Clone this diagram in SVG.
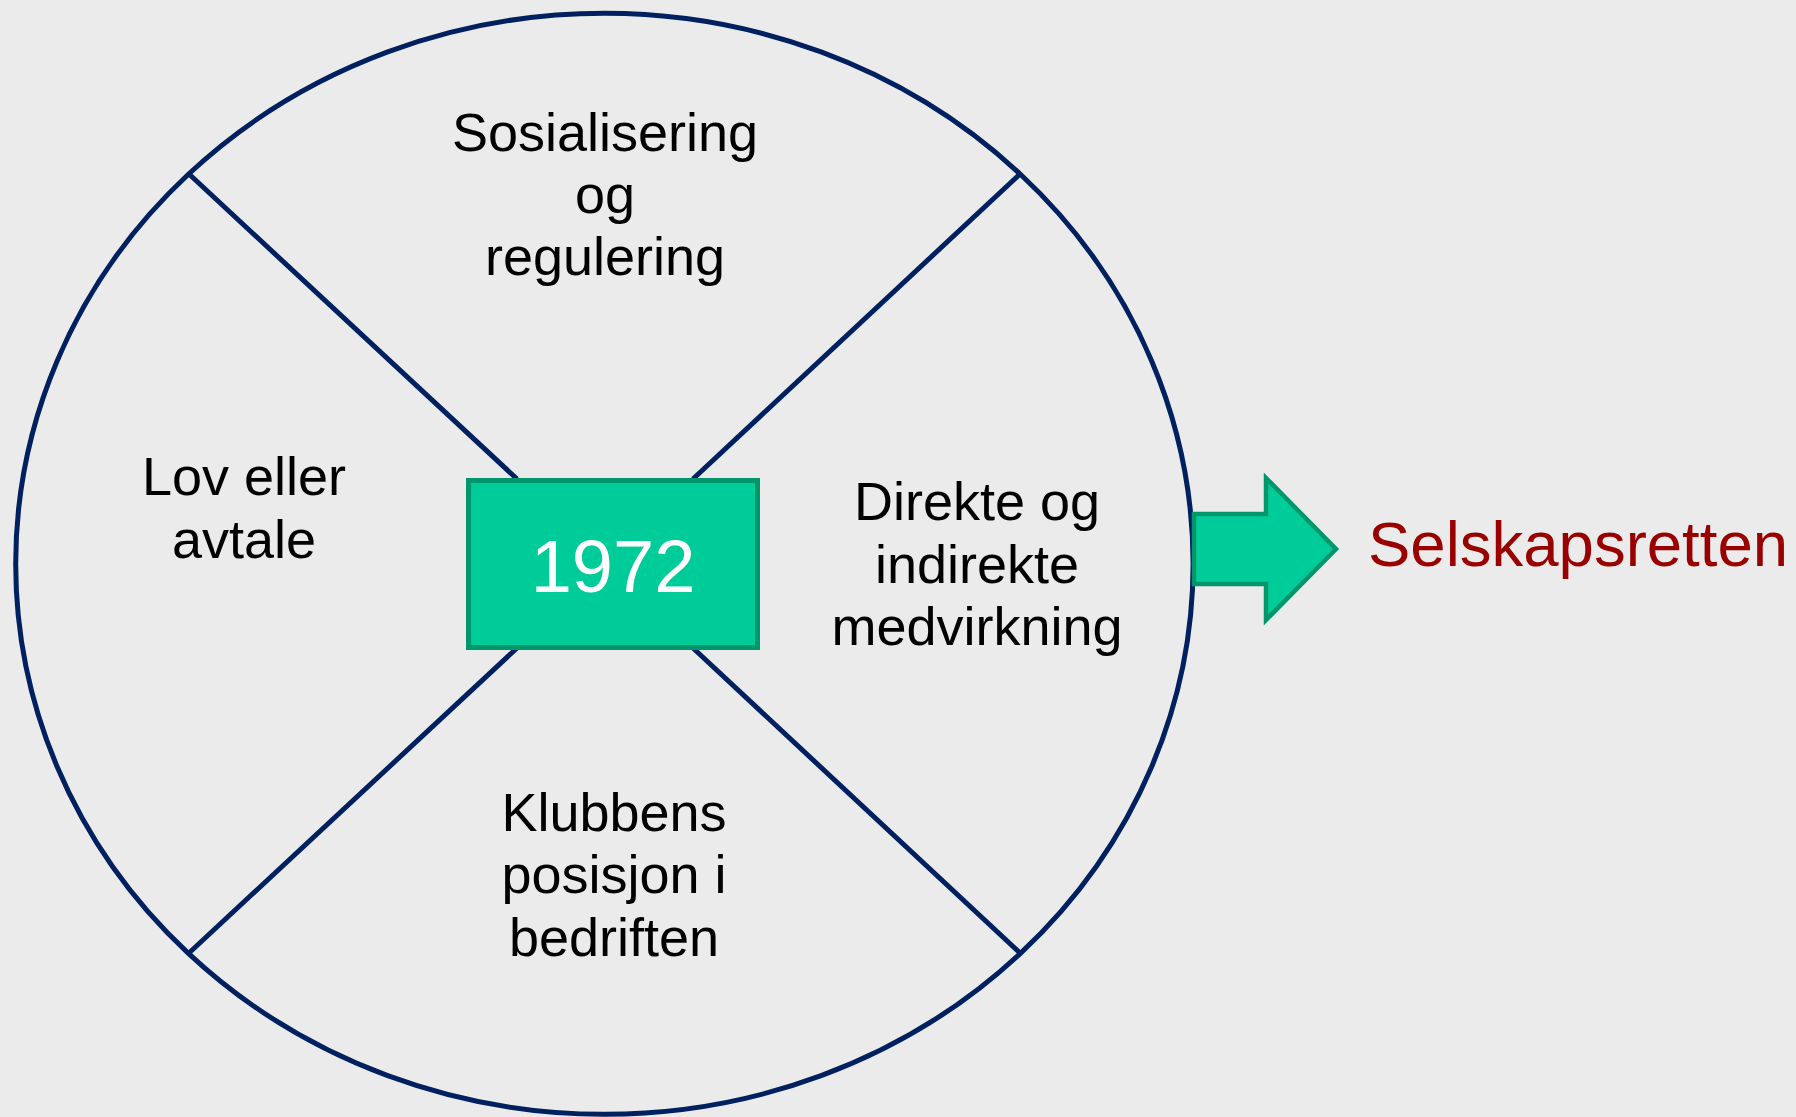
<svg xmlns="http://www.w3.org/2000/svg" width="1796" height="1117" viewBox="0 0 1796 1117">
<style>
.lbl{font-family:"Liberation Sans",Arial,sans-serif;font-size:54px;fill:#000;text-anchor:middle}
.ln{stroke:#002060;stroke-width:5;fill:none}
</style>
<rect x="0" y="0" width="1796" height="1117" fill="#EBEBEB"/>
<g id="circle">
<ellipse cx="604.4" cy="563.8" rx="588.7" ry="550.5" fill="none" stroke="#002060" stroke-width="5"/>
</g>
<g id="connectors">
<line class="ln" x1="189" y1="174" x2="517" y2="479"/>
<line class="ln" x1="1020" y1="174" x2="693" y2="479"/>
<line class="ln" x1="189" y1="953" x2="517" y2="648"/>
<line class="ln" x1="1020" y1="953" x2="693" y2="648"/>
</g>
<g id="center">
<rect x="468.5" y="480.5" width="289" height="167" fill="#00CC99" stroke="#00966B" stroke-width="5"/>
<text x="613" y="592" font-family="Liberation Sans,Arial,sans-serif" font-size="74" fill="#FFFFFF" text-anchor="middle">1972</text>
</g>
<g id="top">
<text class="lbl" x="605" y="151">Sosialisering</text>
<text class="lbl" x="605" y="213">og</text>
<text class="lbl" x="605" y="275">regulering</text>
</g>
<g id="left">
<text class="lbl" x="244" y="495">Lov eller</text>
<text class="lbl" x="244" y="558">avtale</text>
</g>
<g id="right">
<text class="lbl" x="977" y="520">Direkte og</text>
<text class="lbl" x="977" y="583">indirekte</text>
<text class="lbl" x="977" y="645">medvirkning</text>
</g>
<g id="bottom">
<text class="lbl" x="614" y="831">Klubbens</text>
<text class="lbl" x="614" y="893">posisjon i</text>
<text class="lbl" x="614" y="956">bedriften</text>
</g>
<g id="arrow">
<polygon points="1194,514 1266,514 1266,478 1336,549 1266,620 1266,584 1194,584" fill="#00CC99" stroke="#00966B" stroke-width="4.5"/>
</g>
<g id="result">
<text x="1368" y="566" font-family="Liberation Sans,Arial,sans-serif" font-size="63.5" fill="#990000">Selskapsretten</text>
</g>
</svg>
